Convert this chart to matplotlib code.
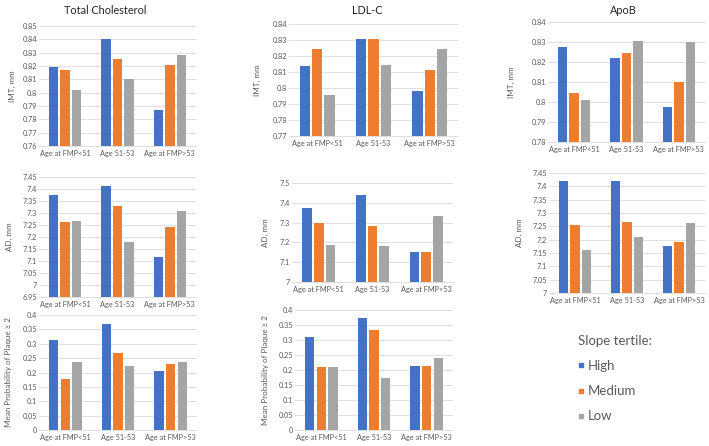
import matplotlib
matplotlib.use('Agg')
import matplotlib.pyplot as plt
from matplotlib.ticker import FuncFormatter
import numpy as np

plt.rcParams['font.family'] = ['Lato', 'DejaVu Sans']

groups = ['Age at FMP<51', 'Age 51-53', 'Age at FMP>53']
tertiles = ['High', 'Medium', 'Low']
colors = ['#4472C4', '#ED7D31', '#A5A5A5']

# values per panel: rows = High, Medium, Low ; cols = groups
tc_imt = [[0.819, 0.840, 0.787], [0.817, 0.8255, 0.821], [0.802, 0.810, 0.828]]
tc_ad = [[7.373, 7.414, 7.117], [7.264, 7.328, 7.242], [7.265, 7.178, 7.307]]
tc_plaque = [[0.313, 0.369, 0.204], [0.179, 0.268, 0.230], [0.238, 0.221, 0.235]]
ldl_imt = [[0.8139, 0.8304, 0.7984], [0.8241, 0.8308, 0.811], [0.7957, 0.8143, 0.8243]]
ldl_ad = [[7.376, 7.439, 7.150], [7.298, 7.285, 7.150], [7.186, 7.184, 7.335]]
ldl_plaque = [[0.309, 0.372, 0.212], [0.210, 0.332, 0.213], [0.209, 0.175, 0.239]]
apob_imt = [[0.8276, 0.822, 0.7977], [0.8046, 0.8246, 0.8098], [0.8008, 0.8307, 0.8302]]
apob_ad = [[7.421, 7.421, 7.178], [7.255, 7.266, 7.192], [7.162, 7.210, 7.263]]

W, H = 709, 446
fig = plt.figure(figsize=(W / 100, H / 100), dpi=100)

def rect(x0, y0, x1, y1):
    return [x0 / W, 1 - y1 / H, (x1 - x0) / W, (y1 - y0) / H]

def panel(box, data, ylim, step, ylabel, labx, title=None, titlex=None):
    ax = fig.add_axes(rect(*box))
    x = np.arange(len(groups))
    for i, vals in enumerate(data):
        ax.bar(x + (i - 1) * 0.22, vals, width=0.18, color=colors[i],
               bottom=0, zorder=3)
    ax.set_xlim(-0.5, 2.5)
    ax.set_ylim(*ylim)
    ax.set_yticks(np.arange(ylim[0], ylim[1] + step / 2, step))
    ax.yaxis.set_major_formatter(FuncFormatter(lambda v, p: '%g' % round(v, 3)))
    ax.set_xticks(x)
    ax.set_xticklabels(groups)
    ax.grid(axis='y', color='#d9d9d9', linewidth=0.6, zorder=0)
    for s in ['top', 'right', 'left']:
        ax.spines[s].set_visible(False)
    ax.spines['bottom'].set_color('#d9d9d9')
    ax.spines['bottom'].set_linewidth(0.6)
    ax.tick_params(length=0, labelsize=5.3, labelcolor='#595959')
    ax.tick_params(axis='y', pad=1.5)
    ax.tick_params(axis='x', pad=3)
    ax.set_ylabel(ylabel, fontsize=5.8, color='#595959')
    ax.yaxis.set_label_coords((labx - box[0]) / (box[2] - box[0]), 0.5)
    if title:
        fig.text(titlex / W, 1 - 11 / H, title, fontsize=7.8, color='#262626',
                 ha='center', va='center')
    return ax

panel((39, 26, 196, 146), tc_imt, (0.76, 0.85), 0.01, 'IMT, mm', 16,
      'Total Cholesterol', 105)
panel((39, 177, 196, 297), tc_ad, (6.95, 7.45), 0.05, 'AD, mm', 13)
panel((39, 315, 197, 430), tc_plaque, (0, 0.4), 0.05,
      'Mean Probability of Plaque ≥ 2', 12)
panel((289, 24, 458, 136), ldl_imt, (0.77, 0.84), 0.01, 'IMT, mm', 261,
      'LDL-C', 367)
panel((292, 183, 453, 282), ldl_ad, (7.0, 7.5), 0.1, 'AD, mm', 269)
panel((295, 310, 453, 430), ldl_plaque, (0, 0.4), 0.05,
      'Mean Probability of Plaque ≥ 2', 269)
panel((548, 22, 705, 142), apob_imt, (0.78, 0.84), 0.01, 'IMT, mm', 515,
      'ApoB', 623)
panel((549, 173, 705, 293), apob_ad, (7.0, 7.45), 0.05, 'AD, mm', 523)

handles = [plt.Line2D([], [], marker='s', linestyle='', markersize=3.5,
                      color=c) for c in colors]
leg = fig.legend(handles, tertiles, loc='upper left',
                 bbox_to_anchor=(566 / W, 1 - 323 / H), frameon=False,
                 title='Slope tertile:', fontsize=9.5, title_fontsize=9.5,
                 handlelength=0.4, handletextpad=0.35, labelspacing=1.0,
                 alignment='left', labelcolor='#595959')
leg.get_title().set_color('#595959')

fig.savefig('out.png', dpi=100)
